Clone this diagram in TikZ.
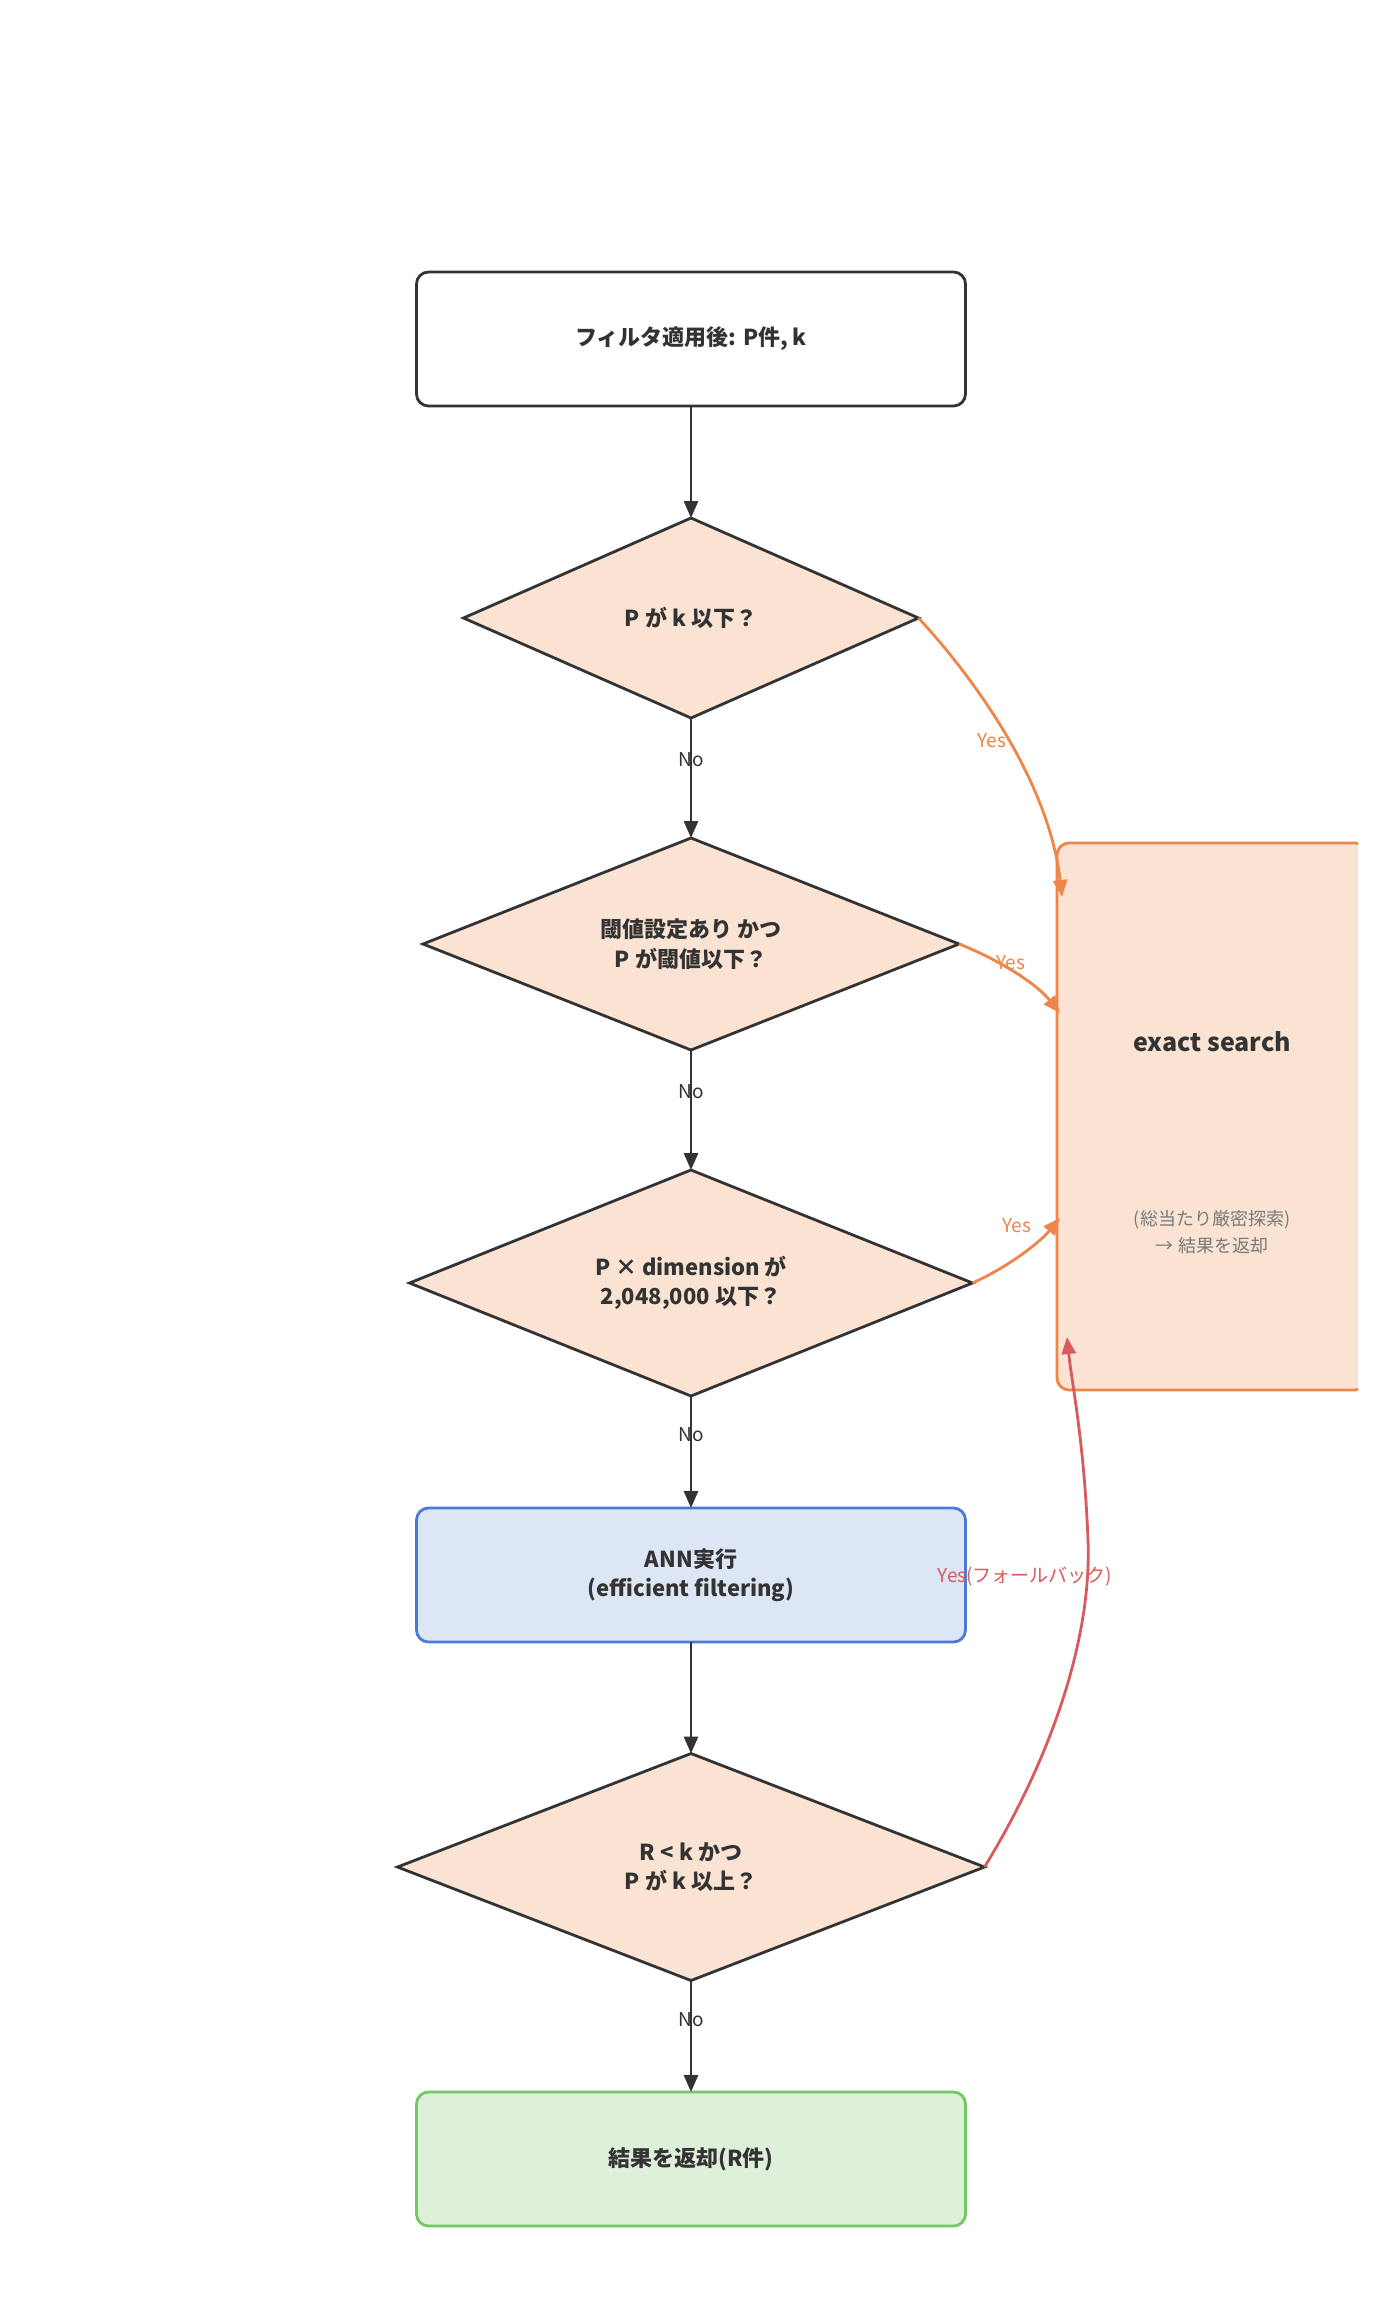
\documentclass[tikz,border=0pt]{standalone}
\usepackage{fontspec}
\setmainfont{Noto Sans CJK JP}
\usetikzlibrary{shapes.geometric,arrows.meta}
\definecolor{ink}{HTML}{333333}
\definecolor{peach}{HTML}{FAE3D2}
\definecolor{orng}{HTML}{EF8548}
\definecolor{redc}{HTML}{D85A5C}
\definecolor{bluestroke}{HTML}{4A7BD3}
\definecolor{bluefill}{HTML}{DDE6F4}
\definecolor{greenstroke}{HTML}{6DCB60}
\definecolor{greenfill}{HTML}{DFF0DA}
\definecolor{subgray}{HTML}{7A7A7A}
\begin{document}
\begin{tikzpicture}[x=1pt,y=-1pt,
  every node/.style={inner sep=0pt, outer sep=0pt},
  nodetext/.style={font=\fontsize{22}{29.5}\selectfont\bfseries, text=ink, align=center},
  procbox/.style={nodetext, rectangle, rounded corners=12pt, line width=2.8pt, minimum width=549pt, minimum height=134pt},
  decision/.style={nodetext, diamond, draw=ink, fill=peach, line width=2.8pt, shape aspect=2.5},
  flow/.style={draw=ink, line width=2.8pt, -{Triangle[length=17pt,width=14pt]}},
  yesflow/.style={draw=orng, line width=2.8pt, -{Triangle[length=17pt,width=14pt]}},
  fbflow/.style={draw=redc, line width=2.8pt, -{Triangle[length=17pt,width=14pt]}},
  edgelabel/.style={font=\fontsize{19}{22}\selectfont},
]
\useasboundingbox (0,0) rectangle (1381,2308);
\fill[white] (0,0) rectangle (1381,2308);

% nodes
\node[procbox, draw=ink, fill=white] (top) at (691,339) {フィルタ適用後: P件, k};
\node[decision, minimum width=455pt, minimum height=200pt] (d1) at (691,618) {P が k 以下？};
\node[decision, minimum width=536pt, minimum height=212pt] (d2) at (691,944) {閾値設定あり かつ\\P が閾値以下？};
\node[decision, minimum width=563pt, minimum height=226pt] (d3) at (691,1283) {P × dimension が\\2,048,000 以下？};
\node[procbox, draw=bluestroke, fill=bluefill] (ann) at (691,1575) {ANN実行\\(efficient filtering)};
\node[decision, minimum width=587pt, minimum height=227pt] (d4) at (691,1867) {R < k かつ\\P が k 以上？};
\node[procbox, draw=greenstroke, fill=greenfill] (res) at (691,2159) {結果を返却(R件)};

% exact search box (clipped at the right edge)
\begin{scope}
  \clip (0,0) rectangle (1358,2308);
  \node[rectangle, rounded corners=12pt, draw=orng, fill=peach, line width=2.8pt,
        minimum width=310pt, minimum height=547pt] (exact) at (1212,1116.5) {};
\end{scope}
\node[font=\fontsize{25}{30}\selectfont\bfseries, text=ink] (extitle) at (1212,1042) {exact search};
\node[font=\fontsize{18}{27}\selectfont, text=subgray, align=center] (exsub) at (1212,1232) {(総当たり厳密探索)\\→ 結果を返却};

% connector end points on the exact search box
\coordinate (e1) at (1062,897);
\coordinate (e2) at (1060,1013);
\coordinate (e3) at (1060,1218);
\coordinate (e4) at (1067,1337);

% main flow
\draw[flow] (top.south) -- (d1.north);
\draw[flow] (d1.south) -- (d2.north);
\draw[flow] (d2.south) -- (d3.north);
\draw[flow] (d3.south) -- (ann.north);
\draw[flow] (ann.south) -- (d4.north);
\draw[flow] (d4.south) -- (res.north);

\node[edgelabel, text=ink] (no1) at (691,760) {No};
\node[edgelabel, text=ink] (no2) at (691,1092) {No};
\node[edgelabel, text=ink] (no3) at (691,1435) {No};
\node[edgelabel, text=ink] (no4) at (691,2020) {No};

% yes branches
\draw[yesflow] (d1.east) .. controls (985,690) and (1050,790) .. (e1);
\draw[yesflow] (d2.east) .. controls (995,958) and (1035,982) .. (e2);
\draw[yesflow] (d3.east) .. controls (1010,1266) and (1040,1242) .. (e3);
\draw[fbflow] (d4.east) .. controls (1050,1760) and (1092,1640) .. (1088,1540)
               .. controls (1084,1440) and (1072,1385) .. (e4);

\node[edgelabel, text=orng] (y1) at (992,741) {Yes};
\node[edgelabel, text=orng] (y2) at (1011,963) {Yes};
\node[edgelabel, text=orng] (y3) at (1017,1226) {Yes};
\node[edgelabel, text=redc] (y4) at (1025,1577) {Yes(フォールバック)};
\end{tikzpicture}
\end{document}
